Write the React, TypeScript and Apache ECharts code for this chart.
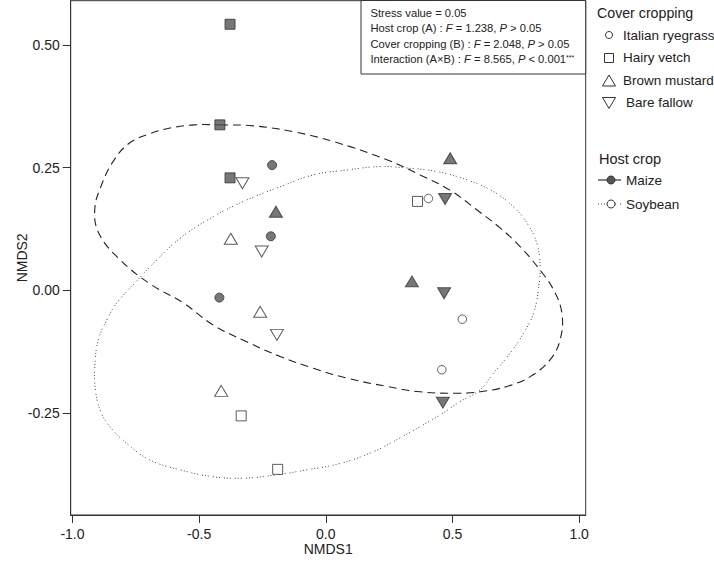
import React, { useEffect, useRef } from "react";
import * as echarts from "echarts";

// ---- data (NMDS1, NMDS2) ----
const maizeRyegrass = [[-0.212, 0.255], [-0.217, 0.11], [-0.42, -0.015]];
const maizeVetch = [[-0.378, 0.542], [-0.418, 0.337], [-0.378, 0.229]];
const maizeMustard = [[-0.197, 0.16], [0.491, 0.269], [0.34, 0.018]];
const maizeFallow = [[0.471, 0.186], [0.467, -0.006], [0.462, -0.229]];
const soyRyegrass = [[0.405, 0.187], [0.539, -0.059], [0.458, -0.162]];
const soyVetch = [[0.362, 0.181], [-0.334, -0.256], [-0.19, -0.365]];
const soyMustard = [[-0.375, 0.105], [-0.259, -0.044], [-0.413, -0.205]];
const soyFallow = [[-0.329, 0.218], [-0.253, 0.079], [-0.193, -0.091]];

// group outlines
const maizeOutline = [
  [-0.418, 0.337], [-0.286, 0.335], [-0.128, 0.323], [0.03, 0.303], [0.241, 0.266],
  [0.372, 0.235], [0.49, 0.204], [0.596, 0.164], [0.688, 0.127], [0.767, 0.089],
  [0.846, 0.041], [0.899, 0.001], [0.932, -0.047], [0.925, -0.101], [0.885, -0.142],
  [0.807, -0.176], [0.715, -0.196], [0.609, -0.207], [0.517, -0.21], [0.372, -0.207],
  [0.241, -0.196], [0.083, -0.179], [-0.049, -0.159], [-0.18, -0.135], [-0.312, -0.105],
  [-0.444, -0.071], [-0.562, -0.026], [-0.694, 0.013], [-0.812, 0.062], [-0.895, 0.115],
  [-0.912, 0.165], [-0.885, 0.215], [-0.84, 0.262], [-0.78, 0.298], [-0.7, 0.318],
  [-0.61, 0.331], [-0.52, 0.337],
];
const soyOutline = [
  [-0.575, 0.106], [-0.444, 0.15], [-0.312, 0.184], [-0.18, 0.211], [-0.049, 0.235],
  [0.083, 0.245], [0.214, 0.252], [0.32, 0.249], [0.438, 0.242], [0.557, 0.225],
  [0.662, 0.201], [0.741, 0.17], [0.794, 0.137], [0.833, 0.096], [0.846, 0.048],
  [0.839, 0.001], [0.82, -0.047], [0.78, -0.088], [0.728, -0.128], [0.662, -0.169],
  [0.609, -0.203], [0.53, -0.227], [0.451, -0.254], [0.372, -0.278], [0.293, -0.301],
  [0.188, -0.329], [0.056, -0.353], [-0.075, -0.366], [-0.193, -0.376], [-0.325, -0.383],
  [-0.444, -0.38], [-0.575, -0.366], [-0.694, -0.346], [-0.786, -0.312], [-0.852, -0.278],
  [-0.891, -0.244], [-0.911, -0.196], [-0.911, -0.149], [-0.898, -0.101], [-0.865, -0.061],
  [-0.825, -0.026], [-0.753, 0.015], [-0.674, 0.058],
];

const xTicks = [-1.0, -0.5, 0.0, 0.5, 1.0];
const yTicks = [-0.25, 0.0, 0.25, 0.5];

const coverLabels = ["Italian ryegrass", "Hairy vetch", "Brown mustard", "Bare fallow"];
const hostLabels = ["Maize", "Soybean"];
const statLines = [
  "Stress value = 0.05",
  "Host crop (A) : {i|F} = 1.238, {i|P} > 0.05",
  "Cover cropping (B) : {i|F} = 2.048, {i|P} > 0.05",
  "Interaction (A\u00d7B) : {i|F} = 8.565, {i|P} < 0.001{s|***}",
];

const FONT = "'Liberation Sans', Arial, Helvetica, sans-serif";
const DARK = "#333";
const FILL = "#555";

export default function App() {
  const ref = useRef<HTMLDivElement>(null);

  useEffect(() => {
    if (!ref.current) return;
    const chart = echarts.init(ref.current, undefined, { renderer: "svg" });

    const filled = { color: FILL, borderColor: DARK, borderWidth: 1 };
    const open = { color: "#fff", borderColor: DARK, borderWidth: 1 };

    const scatter = (name: string, data: number[][], symbol: string, size: any, style: any, rotate = 0) => ({
      name,
      type: "scatter",
      data,
      symbol,
      symbolSize: size,
      symbolRotate: rotate,
      itemStyle: style,
      z: 5,
      silent: true,
    });

    const outline = (data: number[][], stroke: string, dash: number[], width: number) => ({
      type: "custom",
      data,
      z: 2,
      silent: true,
      renderItem: (params: any, api: any) => {
        if (params.dataIndex !== 0) return null;
        const pts = data.map((p) => api.coord(p));
        return {
          type: "polygon",
          shape: { points: pts, smooth: 0.4 },
          style: { fill: "none", stroke, lineWidth: width, lineDash: dash },
        };
      },
    });

    const legendX = 609;
    const textStyle = (text: string, x: number, y: number, size: number) => ({
      type: "text",
      x,
      y,
      style: { text, fontSize: size, fontFamily: FONT, fill: "#222", verticalAlign: "middle", align: "left" },
    });

    const graphic: any[] = [
      {
        type: "rect",
        shape: { x: 361, y: 0.5, width: 224.7, height: 73.5 },
        style: { fill: "#fff", stroke: DARK, lineWidth: 1 },
        z: 100,
      },
      ...statLines.map((t, i) => ({
        type: "text",
        x: 370.5,
        y: [12.5, 28, 43.5, 59][i],
        z: 101,
        style: {
          text: t,
          fontSize: 11.2,
          fontFamily: FONT,
          fill: "#222",
          verticalAlign: "middle",
          align: "left",
          rich: {
            i: { fontSize: 11.2, fontFamily: FONT, fontStyle: "italic", fill: "#222" },
            s: { fontSize: 7, fontFamily: FONT, fill: "#222", verticalAlign: "top", padding: [0, 0, 4, 0] },
          },
        },
      })),
      textStyle("Cover cropping", 597, 13, 14.2),
      { type: "circle", shape: { cx: legendX, cy: 35, r: 3.5 }, style: { fill: "#fff", stroke: DARK, lineWidth: 1 } },
      textStyle(coverLabels[0], 623, 35, 13.5),
      { type: "rect", shape: { x: legendX - 4.5, y: 53.5, width: 9, height: 9 }, style: { fill: "#fff", stroke: DARK, lineWidth: 1 } },
      textStyle(coverLabels[1], 623, 57.5, 13.5),
      { type: "polygon", shape: { points: [[legendX - 6.5, 86], [legendX + 6.5, 86], [legendX, 75]] }, style: { fill: "#fff", stroke: DARK, lineWidth: 1 } },
      textStyle(coverLabels[2], 623, 80, 13.5),
      { type: "polygon", shape: { points: [[legendX - 6.5, 97.5], [legendX + 6.5, 97.5], [legendX, 108.5]] }, style: { fill: "#fff", stroke: DARK, lineWidth: 1 } },
      textStyle(coverLabels[3], 626, 102.5, 13.5),
      textStyle("Host crop", 599, 159, 14.5),
      { type: "line", shape: { x1: 598, y1: 180, x2: 621, y2: 180 }, style: { stroke: DARK, lineWidth: 1.2 } },
      { type: "circle", shape: { cx: 611, cy: 180, r: 4 }, style: { fill: FILL, stroke: DARK, lineWidth: 1 } },
      textStyle(hostLabels[0], 626, 180, 13.5),
      { type: "line", shape: { x1: 598, y1: 204, x2: 623, y2: 204 }, style: { stroke: DARK, lineWidth: 1, lineDash: [1, 2, 1, 2, 1, 4] } },
      { type: "circle", shape: { cx: 611, cy: 204, r: 4 }, style: { fill: "#fff", stroke: DARK, lineWidth: 1 } },
      textStyle(hostLabels[1], 626, 204, 13.5),
    ];

    chart.setOption({
      animation: false,
      backgroundColor: "#fff",
      textStyle: { fontFamily: FONT },
      grid: {
        left: 70.7,
        right: 128.3,
        top: 0.7,
        bottom: 52,
        show: true,
        borderColor: DARK,
        borderWidth: 1,
        containLabel: false,
        outerBoundsMode: "none",
      },
      xAxis: {
        type: "value",
        min: -1.007,
        max: 1.026,
        name: "NMDS1",
        nameLocation: "middle",
        nameGap: 27,
        nameMoveOverlap: false,
        nameTextStyle: { fontSize: 14, color: "#222", fontFamily: FONT },
        axisLine: { show: true, onZero: false, lineStyle: { color: DARK, width: 1 } },
        axisTick: { show: true, length: 8, customValues: xTicks, lineStyle: { color: DARK } },
        axisLabel: {
          customValues: xTicks,
          formatter: (v: number) => v.toFixed(1),
          fontSize: 14,
          color: "#222",
          margin: 12,
          fontFamily: FONT,
        },
        splitLine: { show: false },
      },
      yAxis: {
        type: "value",
        min: -0.458,
        max: 0.59,
        name: "NMDS2",
        nameLocation: "middle",
        nameGap: 42,
        nameRotate: 90,
        nameMoveOverlap: false,
        nameTextStyle: { fontSize: 14, color: "#222", fontFamily: FONT },
        axisLine: { show: true, onZero: false, lineStyle: { color: DARK, width: 1 } },
        axisTick: { show: true, length: 8, customValues: yTicks, lineStyle: { color: DARK } },
        axisLabel: {
          customValues: yTicks,
          formatter: (v: number) => v.toFixed(2),
          fontSize: 14,
          color: "#222",
          margin: 11,
          fontFamily: FONT,
        },
        splitLine: { show: false },
      },
      graphic,
      series: [
        outline(maizeOutline, "#222", [8, 5], 1.1),
        outline(soyOutline, "#444", [1, 2, 1, 2, 1, 4], 1),
        scatter("Maize - Italian ryegrass", maizeRyegrass, "circle", 9, filled),
        scatter("Maize - Hairy vetch", maizeVetch, "rect", 10, filled),
        scatter("Maize - Brown mustard", maizeMustard, "triangle", [13, 11], filled),
        scatter("Maize - Bare fallow", maizeFallow, "triangle", [13, 11], filled, 180),
        scatter("Soybean - Italian ryegrass", soyRyegrass, "circle", 8.5, open),
        scatter("Soybean - Hairy vetch", soyVetch, "rect", 10, open),
        scatter("Soybean - Brown mustard", soyMustard, "triangle", [13, 11], open),
        scatter("Soybean - Bare fallow", soyFallow, "triangle", [13, 11], open, 180),
      ],
    });

    return () => chart.dispose();
  }, []);

  return (
    <div
      ref={ref}
      style={{ position: "fixed", left: 0, top: 0, width: 714, height: 567, background: "#fff" }}
    />
  );
}
